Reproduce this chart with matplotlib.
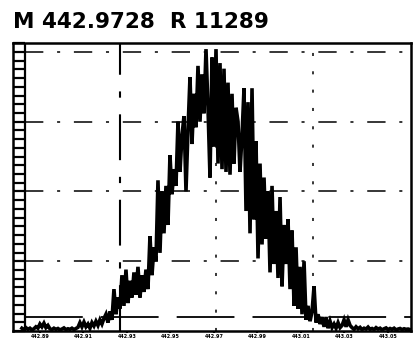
import numpy as np
import matplotlib
matplotlib.use("Agg")
import matplotlib.pyplot as plt

# spectrum values (relative intensity, %)
mass_start = 442.8817
mass_step = 0.00092
intensity = [
    1, 0.5, 1.2, 0.6, 1, 0.4, 0.8, 1.5, 1,
    2.5, 1.5, 2.8, 1.2, 2,
    0.8, 0.5, 1, 0.6, 0.9, 0.4, 0.7, 1.1, 0.5, 0.8, 0.6, 1, 0.5, 0.9, 1.3,
    3, 1.5, 3.2,
    1.5, 2.5, 1, 3, 1.8,
    3.5, 2, 4, 2.5, 4.5,
    6, 3, 7, 4,
    15, 6, 12, 8,
    20, 9, 22, 10, 18, 12, 21,
    13, 23, 12, 20, 14, 22, 15,
    34, 20, 30,
    25, 54, 28,
    50, 35, 52, 38,
    63, 49, 58, 52,
    75, 57, 70,
    77, 50, 72,
    91, 67, 85,
    73, 95, 75,
    92, 78, 101, 80,
    55, 98, 66,
    101, 60, 96,
    58, 94, 57, 89,
    56, 85, 60, 80,
    75, 57, 70,
    87, 43, 82,
    35, 87, 40,
    68, 26, 60,
    31, 55, 33, 50,
    21, 52, 24,
    43, 19, 48,
    16, 38, 24,
    40, 15, 36,
    9, 30, 8,
    23, 6, 25,
    4, 9, 3.5,
    7, 16, 3,
    6, 2.5, 5,
    1.5, 5, 1, 3.5, 1.2,
    2.5, 1, 3, 1.2, 2, 4,
    1.5, 4, 2,
    1.2, 0.6, 1.5, 0.8, 1.3, 0.5, 1, 0.7, 1.4, 0.6, 0.9, 0.5, 1.2, 0.7, 1,
    0.4, 0.8, 1.1, 0.5, 0.9, 0.6, 1, 0.4, 0.7, 0.9, 0.5, 0.8, 0.6, 0.7, 0.5,
]
mass = mass_start + mass_step * np.arange(len(intensity))

tick_masses = [442.89, 442.91, 442.93, 442.95, 442.97, 442.99, 443.01, 443.03, 443.05]
tick_labels = ["442.89", "442.91", "442.93", "442.95", "442.97",
               "442.99", "443.01", "443.03", "443.05"]
hgrid = [25, 50, 75, 100]
low_line = 5
vgrid_main = 442.9268
vgrid_faint = [442.9709, 443.0155]

fig = plt.figure(figsize=(4.13, 3.39), dpi=100)
ax = fig.add_axes([13 / 413, 8 / 339, 398 / 413, 288 / 339])

ax.plot(mass, intensity, color="black", lw=2.6, zorder=3, solid_joinstyle="miter")

ax.set_xlim(442.8776, 443.0606)
ax.set_ylim(0, 103.2)

# broken dash-dot grid, starting right of the ladder
ladder = 12 / 398
for g in hgrid:
    ax.axhline(g, xmin=ladder, color="black", lw=1.1, ls=(0, (12, 9, 2, 9)), zorder=1)
ax.axhline(low_line, xmin=ladder, color="black", lw=1.3, ls=(0, (32, 10)), zorder=1)
ax.axvline(vgrid_main, color="black", lw=1.5, ls=(0, (22, 8, 3, 8)), zorder=1)
for g in vgrid_faint:
    ax.axvline(g, color="black", lw=1.1, ls=(0, (2, 10)), zorder=1)

# ladder-like y axis
ax.set_yticks(np.arange(0, 103.2, 3.125))
ax.set_yticklabels([])
ax.tick_params(axis="y", direction="in", length=8.5, width=1.6, color="black")
x0, x1 = ax.get_xlim()
ax.axvline(x0 + ladder * (x1 - x0), color="black", lw=1.6)

ax.set_xticks(tick_masses)
ax.set_xticklabels(tick_labels, fontsize=3.5, fontweight="bold")
ax.tick_params(axis="x", direction="out", length=1.5, width=1.5, pad=0.5)

for s in ax.spines.values():
    s.set_linewidth(1.8)

fig.text(13 / 413, 1 - 28 / 339, "M 442.9728  R 11289", fontsize=15.5,
         fontweight="bold", family="DejaVu Sans", ha="left", va="baseline")

fig.savefig("out.png", dpi=100)
